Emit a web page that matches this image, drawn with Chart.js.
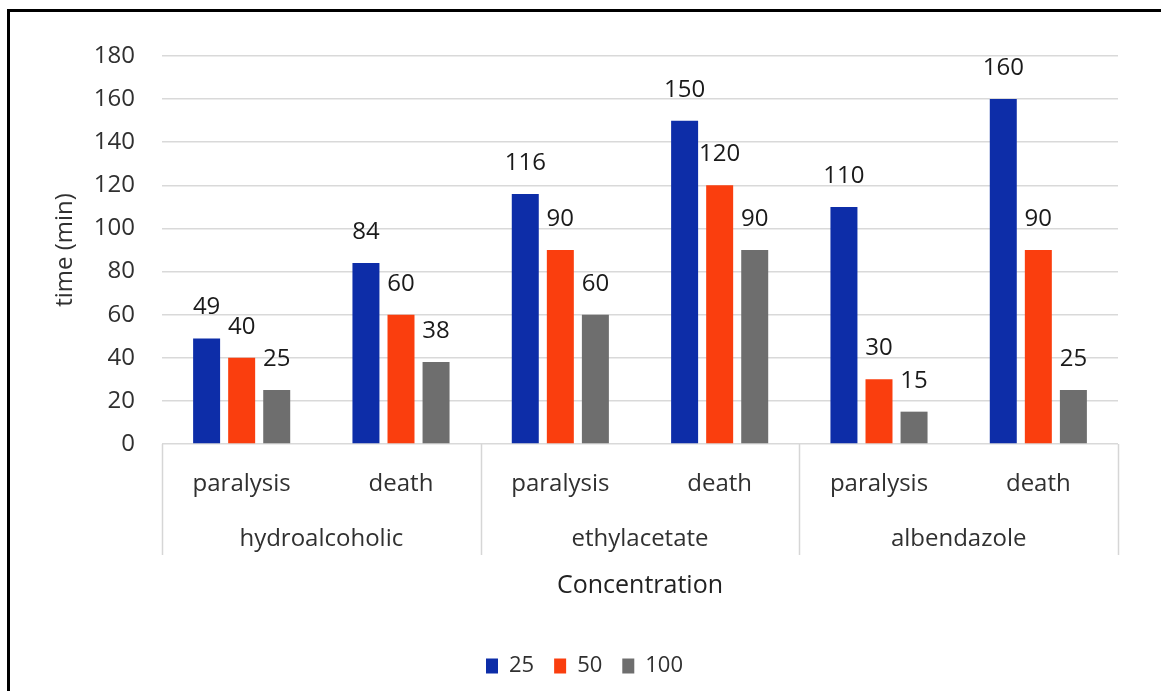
<!DOCTYPE html>
<html>
<head>
<meta charset="utf-8">
<script src="https://cdn.jsdelivr.net/npm/chart.js@4.4.1/dist/chart.umd.min.js"></script>
<style>
  html, body { margin: 0; padding: 0; background: #fff; }
  #wrap { position: relative; width: 1161px; height: 691px; overflow: hidden; background: #fff; }
  #c { position: absolute; left: 0; top: 0; }
  #frame { position: absolute; left: 7px; top: 9px; right: -10px; bottom: -10px;
           border-top: 3px solid #000; border-left: 3px solid #000; pointer-events: none; }
</style>
</head>
<body>
<div id="wrap">
  <canvas id="c" width="1161" height="691"></canvas>
  <div id="frame"></div>
</div>
<script>
// Categories
const subLabels = ['paralysis', 'death', 'paralysis', 'death', 'paralysis', 'death'];
const groupLabels = ['hydroalcoholic', 'ethylacetate', 'albendazole'];

// Series (concentration) values, time in minutes
const seriesNames = ['25', '50', '100'];
const values25 = [49, 84, 116, 150, 110, 160];
const values50 = [40, 60, 90, 120, 30, 90];
const values100 = [25, 38, 60, 90, 15, 25];

// Value axis ticks
const yMin = 0;
const yMax = 180;
const yStep = 20;

const FONT = '"Open Sans", "DejaVu Sans", sans-serif';
const TEXT = '#303030';

// Writes each bar's value above it
const valueLabels = {
  id: 'valueLabels',
  afterDatasetsDraw(chart) {
    const ctx = chart.ctx;
    ctx.save();
    ctx.font = '24px ' + FONT;
    ctx.fillStyle = '#1a1a1a';
    ctx.textAlign = 'center';
    ctx.textBaseline = 'middle';
    chart.data.datasets.forEach((ds, i) => {
      chart.getDatasetMeta(i).data.forEach((bar, j) => {
        ctx.fillText(String(ds.data[j]), bar.x, bar.y - 31);
      });
    });
    ctx.restore();
  }
};

// Vertical dividers between the outer category groups
const groupDividers = {
  id: 'groupDividers',
  afterDraw(chart) {
    const x = chart.scales.x;
    const x2 = chart.scales.x2;
    const ctx = chart.ctx;
    const per = subLabels.length / groupLabels.length;
    const top = chart.chartArea.bottom;
    const bottom = x2.top + 58;
    ctx.save();
    ctx.strokeStyle = '#d6d6d6';
    ctx.lineWidth = 1.5;
    for (let g = 0; g <= groupLabels.length; g++) {
      const px = Math.round(x.getPixelForValue(g * per - 0.5)) + 0.5;
      ctx.beginPath();
      ctx.moveTo(px, top);
      ctx.lineTo(px, bottom);
      ctx.stroke();
    }
    ctx.restore();
  }
};

new Chart(document.getElementById('c'), {
  type: 'bar',
  data: {
    labels: subLabels,
    datasets: [
      { label: seriesNames[0], data: values25, backgroundColor: '#0d2da8', xAxisID: 'x' },
      { label: seriesNames[1], data: values50, backgroundColor: '#fa3e0e', xAxisID: 'x' },
      { label: seriesNames[2], data: values100, backgroundColor: '#6e6e6e', xAxisID: 'x' }
    ]
  },
  options: {
    responsive: false,
    animation: false,
    devicePixelRatio: 1,
    categoryPercentage: 0.66,
    barPercentage: 0.77,
    layout: { padding: { left: 51, right: 43, top: 56, bottom: 4 } },
    plugins: {
      tooltip: { enabled: false },
      legend: {
        position: 'bottom',
        labels: {
          font: { family: FONT, size: 22 },
          color: TEXT,
          boxWidth: 12,
          boxHeight: 15,
          padding: 20
        }
      }
    },
    scales: {
      y: {
        min: yMin,
        max: yMax,
        ticks: { stepSize: yStep, font: { family: FONT, size: 24 }, color: TEXT, padding: 27 },
        grid: { color: '#d9d9d9', lineWidth: 1.5, drawTicks: false },
        border: { display: false },
        title: { display: true, text: 'time (min)', font: { family: FONT, size: 24 }, color: TEXT,
                 padding: { top: 0, bottom: 0 } },
        afterFit(scale) { scale.width = 111; }
      },
      x: {
        position: 'bottom',
        grid: { display: false },
        border: { display: false },
        ticks: { font: { family: FONT, size: 24 }, color: TEXT, padding: 18, maxRotation: 0,
                 autoSkip: true, autoSkipPadding: 0 },
        afterFit(scale) { scale.height = 53; }
      },
      x2: {
        type: 'category',
        position: 'bottom',
        labels: groupLabels,
        offset: true,
        grid: { display: false },
        border: { display: false },
        ticks: { font: { family: FONT, size: 24 }, color: TEXT, padding: 20, maxRotation: 0,
                 autoSkip: true, autoSkipPadding: 0 },
        title: { display: true, text: 'Concentration', font: { family: FONT, size: 25 }, color: '#222222',
                 padding: { top: 0, bottom: 34 } },
        afterFit(scale) { scale.height = 138; }
      }
    }
  },
  plugins: [valueLabels, groupDividers]
});
</script>
</body>
</html>
